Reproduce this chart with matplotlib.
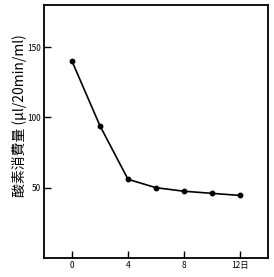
import matplotlib
matplotlib.use('Agg')
import matplotlib.pyplot as plt

# oxygen consumption vs days
days = [0, 2, 4, 6, 8, 10, 12]
o2_uptake = [140, 94, 56, 50, 47.5, 46, 44.5]
xticks = [0, 4, 8, 12]
xticklabels = ['0', '4', '8', '12日']
yticks = [50, 100, 150]

plt.rcParams['font.family'] = ['Noto Sans CJK JP', 'DejaVu Sans']

fig = plt.figure(figsize=(2.74, 2.77), dpi=100)
ax = fig.add_axes([0.1606, 0.0686, 0.8175, 0.9134])

ax.plot(days, o2_uptake, color='black', lw=1.2, marker='o', ms=3.2,
        markerfacecolor='black', markeredgecolor='black')

ax.set_xlim(-2, 14)
ax.set_ylim(0, 180)
ax.set_xticks(xticks)
ax.set_xticklabels(xticklabels)
ax.set_yticks(yticks)
ax.tick_params(direction='in', length=5, width=1.0, labelsize=6, pad=2,
               color='black')
for s in ax.spines.values():
    s.set_linewidth(1.3)

fig.text(0.07, 0.581, '酸素消費量 (μl/20min/ml)', rotation=90,
         ha='center', va='center', fontsize=10)

fig.savefig('out.png', dpi=100)
